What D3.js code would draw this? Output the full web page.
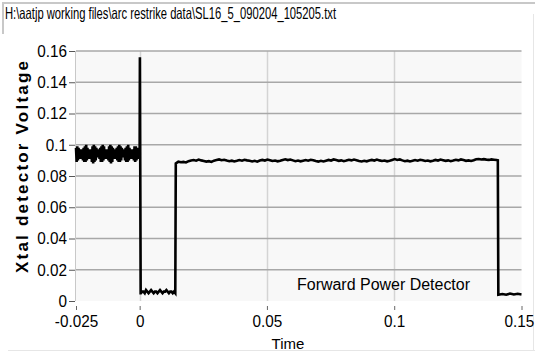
<!DOCTYPE html>
<html><head><meta charset="utf-8">
<script src="https://cdn.jsdelivr.net/npm/d3@7"></script>
<style>body{margin:0;background:#fff}svg{display:block}</style>
</head><body>
<script>
const titleText = "H:\\aatjp working files\\arc restrike data\\SL16_5_090204_105205.txt";
const xTicks = [-0.025, 0, 0.05, 0.1, 0.15];
const xTickLabels = ["-0.025", "0", "0.05", "0.1", "0.15"];
const xGrid = [0, 0.05, 0.1];
const yTicks = [0, 0.02, 0.04, 0.06, 0.08, 0.1, 0.12, 0.14, 0.16];
const yTickLabels = ["0", "0.02", "0.04", "0.06", "0.08", "0.1", "0.12", "0.14", "0.16"];
const xLabel = "Time";
const yLabel = "Xtal detector Voltage";
const seriesName = "Forward Power Detector";

// pre-trigger: t from -0.025 step 0.00025
const preStart = -0.025, preStep = 0.00025;
const preValues = [
0.098,0.089,0.099,0.090,0.098,0.091,0.097,0.092,0.096,0.091,0.097,0.090,0.098,0.089,
0.099,0.089,0.100,0.090,0.098,0.091,0.097,0.092,0.096,0.091,0.097,0.089,0.099,0.088,
0.100,0.089,0.099,0.090,0.098,0.092,0.096,0.092,0.097,0.091,0.098,0.089,0.099,0.089,
0.100,0.090,0.099,0.091,0.097,0.092,0.096,0.091,0.097,0.090,0.099,0.089,0.100,0.088,
0.099,0.089,0.098,0.091,0.097,0.092,0.096,0.091,0.098,0.090,0.099,0.089,0.100,0.089,
0.099,0.090,0.098,0.092,0.096,0.092,0.097,0.090,0.098,0.089,0.099,0.089,0.100,0.090,
0.098,0.091,0.097,0.092,0.096,0.091,0.097,0.090,0.099,0.089,0.099,0.090,0.098,0.091,
0.097,0.092];
const spikeTimes = [0, 0.0001, 0.0004];
const spikeValues = [0.093, 0.156, 0.005];
const lowStart = 0.0005, lowStep = 0.0005;
const lowValues = [0.005,0.006,0.006,0.005,0.007,0.006,0.005,0.006,0.007,0.006,0.005,0.006,0.006,0.005,0.006,0.007,0.006,0.005,0.006,0.006,0.007,0.006,0.005,0.006,0.006,0.005,0.006,0.005];
const onStart = 0.0142, onStep = 0.001;
const onValues = [
0.088,0.0892,0.0888,0.0890,0.0887,0.0895,0.0899,0.0902,0.0898,0.0905,0.0900,0.0896,0.0892,0.0895,0.0890,0.0898,0.0902,0.0906,0.0901,0.0904,
0.0899,0.0895,0.0898,0.0893,0.0897,0.0902,0.0898,0.0904,0.0900,0.0897,0.0893,0.0897,0.0892,0.0899,0.0903,0.0899,0.0905,0.0901,0.0896,0.0899,
0.0894,0.0898,0.0903,0.0907,0.0902,0.0905,0.0900,0.0895,0.0899,0.0894,0.0898,0.0902,0.0898,0.0904,0.0901,0.0896,0.0892,0.0897,0.0893,0.0898,
0.0903,0.0899,0.0906,0.0902,0.0897,0.0900,0.0895,0.0899,0.0904,0.0900,0.0905,0.0901,0.0896,0.0893,0.0897,0.0894,0.0899,0.0903,0.0899,0.0905,
0.0900,0.0896,0.0899,0.0894,0.0898,0.0903,0.0908,0.0903,0.0906,0.0900,0.0895,0.0898,0.0893,0.0897,0.0902,0.0898,0.0904,0.0901,0.0896,0.0899,
0.0894,0.0898,0.0903,0.0899,0.0905,0.0901,0.0897,0.0900,0.0895,0.0899,0.0904,0.0900,0.0906,0.0902,0.0897,0.0900,0.0896,0.0901,0.0907,0.0909,
0.0906,0.0908,0.0905,0.0903,0.0906,0.0904,0.0902];
const offTimes = [0.1407, 0.1409, 0.1425, 0.1440, 0.1455, 0.1470, 0.1485, 0.1500];
const offValues = [0.090, 0.004, 0.0045, 0.0040, 0.0048, 0.0042, 0.0046, 0.0042];

const W = 535, H = 351;
const m = {l: 76, r: 521.5, t: 51, b: 301};
const svg = d3.select("body").append("svg").attr("width", W).attr("height", H)
  .style("font-family", "'Liberation Sans',Arial,sans-serif");

svg.append("rect").attr("x", 0).attr("y", 0).attr("width", W).attr("height", H).attr("fill", "#fff");
svg.append("path").attr("d", `M3,34 V3 H535`).attr("fill", "none").attr("stroke", "#c8c8c8").attr("stroke-width", 2);
svg.append("text").attr("x", 5).attr("y", 18.5).attr("font-size", 16.5).attr("fill", "#000")
  .attr("textLength", 331).attr("lengthAdjust", "spacingAndGlyphs")
  .text(titleText);
svg.append("line").attr("x1", 533.5).attr("x2", 533.5).attr("y1", 14).attr("y2", 351).attr("stroke", "#e6e6e6");
svg.append("line").attr("x1", 8).attr("x2", 535).attr("y1", 350.5).attr("y2", 350.5).attr("stroke", "#e6e6e6");

const x = d3.scaleLinear().domain([-0.025, 0.15]).range([m.l, m.r]);
const y = d3.scaleLinear().domain([0, 0.16]).range([m.b, m.t]);

svg.append("rect").attr("x", m.l).attr("y", m.t).attr("width", m.r - m.l).attr("height", m.b - m.t).attr("fill", "#f8f8f8");
svg.append("line").attr("x1", m.l - 0.5).attr("x2", m.l - 0.5).attr("y1", m.t).attr("y2", m.b).attr("stroke", "#c8c8c8");

svg.append("g").selectAll("line").data(xGrid).join("line")
  .attr("x1", d => Math.round(x(d)) + 0.5).attr("x2", d => Math.round(x(d)) + 0.5)
  .attr("y1", m.t).attr("y2", m.b).attr("stroke", "#d4d4d4").attr("stroke-width", 1.5);
svg.append("g").selectAll("line").data(yTicks.filter(d => d > 0)).join("line")
  .attr("x1", m.l).attr("x2", m.r)
  .attr("y1", d => y(d)).attr("y2", d => y(d)).attr("stroke", "#a8a8a8").attr("stroke-width", 1.5);

const yAxis = d3.axisLeft(y).tickValues(yTicks).tickFormat((d, i) => yTickLabels[i]).tickSize(6).tickPadding(2);
const gy = svg.append("g").attr("transform", `translate(${m.l - 1},0)`).call(yAxis);
gy.select(".domain").remove();
gy.selectAll("line").attr("stroke", "#555");
gy.selectAll("text").attr("font-size", 17).attr("fill", "#000").attr("font-family", "'Liberation Sans',Arial,sans-serif")
  .attr("x", -9).attr("transform", "scale(0.9,1)");

const xAxis = d3.axisBottom(x).tickValues(xTicks).tickFormat((d, i) => xTickLabels[i]).tickSize(4).tickPadding(5);
const gx = svg.append("g").attr("transform", `translate(0,${m.b + 5})`).call(xAxis);
gx.select(".domain").remove();
gx.selectAll("line").attr("stroke", "#666");
gx.selectAll("text").attr("font-size", 17).attr("fill", "#000").attr("font-family", "'Liberation Sans',Arial,sans-serif")
  .attr("transform", "scale(0.9,1)")
  .attr("x", d => d === 0.15 ? -3 : 0);

svg.append("text").attr("x", 288).attr("y", 349).attr("text-anchor", "middle").attr("font-size", 15).text(xLabel);
svg.append("text").attr("transform", `translate(28,167) rotate(-90)`)
  .attr("text-anchor", "middle").attr("font-size", 17).attr("font-weight", "bold")
  .attr("textLength", 212).attr("lengthAdjust", "spacing")
  .text(yLabel);

const pts = [];
preValues.forEach((v, i) => pts.push([preStart + i * preStep, v]));
spikeTimes.forEach((t, i) => pts.push([t, spikeValues[i]]));
lowValues.forEach((v, i) => pts.push([lowStart + i * lowStep, v]));
onValues.forEach((v, i) => pts.push([onStart + i * onStep, v]));
offTimes.forEach((t, i) => pts.push([t, offValues[i]]));

svg.append("path").datum(pts)
  .attr("d", d3.line().x(d => x(d[0])).y(d => y(d[1])))
  .attr("fill", "none").attr("stroke", "#000").attr("stroke-width", 2.6).attr("stroke-linejoin", "miter");

svg.append("text").attr("x", 470).attr("y", 290).attr("text-anchor", "end").attr("font-size", 16)
  .attr("textLength", 173).attr("lengthAdjust", "spacingAndGlyphs").text(seriesName);
</script>
</body></html>
